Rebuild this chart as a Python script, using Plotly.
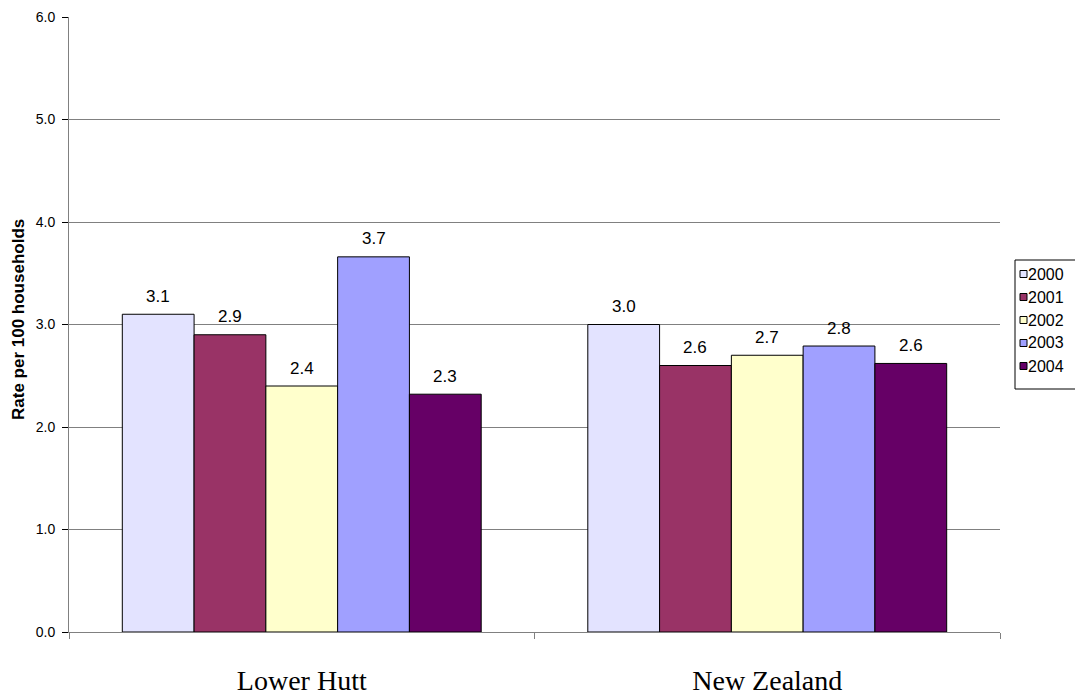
import plotly.graph_objects as go

# Household rate data by region and year
regions = ["Lower Hutt", "New Zealand"]
years = ["2000", "2001", "2002", "2003", "2004"]
lower_hutt = [3.10, 2.90, 2.40, 3.66, 2.32]
new_zealand = [3.00, 2.60, 2.70, 2.79, 2.62]
year_colors = ["#E3E3FF", "#993366", "#FFFFCC", "#A0A0FF", "#660066"]
y_ticks = [0, 1, 2, 3, 4, 5, 6]

W, H = 1075, 695
M_L, M_R, M_T, M_B = 69, 75, 17, 63
PW, PH = W - M_L - M_R, H - M_T - M_B
BARGAP = 0.229

SANS = "Liberation Sans, Arial, sans-serif"
SERIF = "Liberation Serif, Times New Roman, serif"


def px_x(px):
    """Convert a page pixel x to paper coordinates."""
    return (px - M_L) / PW


def px_y(py):
    """Convert a page pixel y to paper coordinates."""
    return (H - M_B - py) / PH


fig = go.Figure()
series = [list(v) for v in zip(lower_hutt, new_zealand)]
for year, vals, col in zip(years, series, year_colors):
    fig.add_trace(go.Bar(
        x=regions, y=vals, name=year,
        marker=dict(color=col, line=dict(color="#000000", width=1)),
        showlegend=False, hoverinfo="x+y+name",
    ))

annotations = []

# Value labels above each bar, positioned from the bar grouping geometry
group_w = 1 - BARGAP
bar_w = group_w / len(years)
for r_idx, region in enumerate(regions):
    for y_idx, year in enumerate(years):
        v = series[y_idx][r_idx]
        xc = r_idx - group_w / 2 + (y_idx + 0.5) * bar_w
        annotations.append(dict(
            x=xc, y=v, xref="x", yref="y", text=f"{v:.1f}",
            showarrow=False, yanchor="middle", xanchor="center", yshift=18,
            font=dict(family=SANS, size=17, color="#000000"),
        ))

# Y-axis title
annotations.append(dict(
    x=px_x(18), y=px_y(320), xref="paper", yref="paper",
    text="<b>Rate per 100 households</b>", textangle=-90, showarrow=False,
    xanchor="center", yanchor="middle",
    font=dict(family=SANS, size=17, color="#000000"),
))

# Legend: bordered box with a swatch and label per year
shapes = []
LEG_L, LEG_T, LEG_B, LEG_R = 1015, 260, 389, 1090
shapes.append(dict(
    type="rect", xref="paper", yref="paper",
    x0=px_x(LEG_L), x1=px_x(LEG_R), y0=px_y(LEG_B), y1=px_y(LEG_T),
    line=dict(color="#000000", width=1), fillcolor="#FFFFFF", layer="above",
))
for k, (year, col) in enumerate(zip(years, year_colors)):
    cy = 274 + 23 * k
    shapes.append(dict(
        type="rect", xref="paper", yref="paper",
        x0=px_x(1020), x1=px_x(1027), y0=px_y(cy + 3.5), y1=px_y(cy - 3.5),
        line=dict(color="#000000", width=1), fillcolor=col, layer="above",
    ))
    annotations.append(dict(
        x=px_x(1026), y=px_y(cy), xref="paper", yref="paper", text=year,
        showarrow=False, xanchor="left", yanchor="middle",
        font=dict(family=SANS, size=16, color="#000000"),
    ))

fig.update_layout(
    width=W, height=H,
    margin=dict(l=M_L, r=M_R, t=M_T, b=M_B, pad=0, autoexpand=False),
    paper_bgcolor="#FFFFFF", plot_bgcolor="#FFFFFF",
    barmode="group", bargap=BARGAP, bargroupgap=0,
    showlegend=False,
    annotations=annotations, shapes=shapes,
    xaxis=dict(
        type="category", categoryorder="array", categoryarray=regions,
        tickson="boundaries", ticks="outside", ticklen=6, tickcolor="#808080",
        showline=True, linecolor="#808080", linewidth=1,
        showgrid=False, zeroline=False, automargin=False,
        tickfont=dict(family=SERIF, size=28, color="#000000"),
        ticklabelstandoff=23,
    ),
    yaxis=dict(
        range=[0, 6], tickvals=y_ticks, tickformat=".1f",
        ticks="outside", ticklen=6, tickcolor="#000000",
        showline=True, linecolor="#808080", linewidth=1,
        showgrid=True, gridcolor="#808080", gridwidth=1,
        zeroline=False, automargin=False,
        tickfont=dict(family=SANS, size=14, color="#000000"),
        ticklabelstandoff=4,
    ),
)

fig.write_html("out.html")
